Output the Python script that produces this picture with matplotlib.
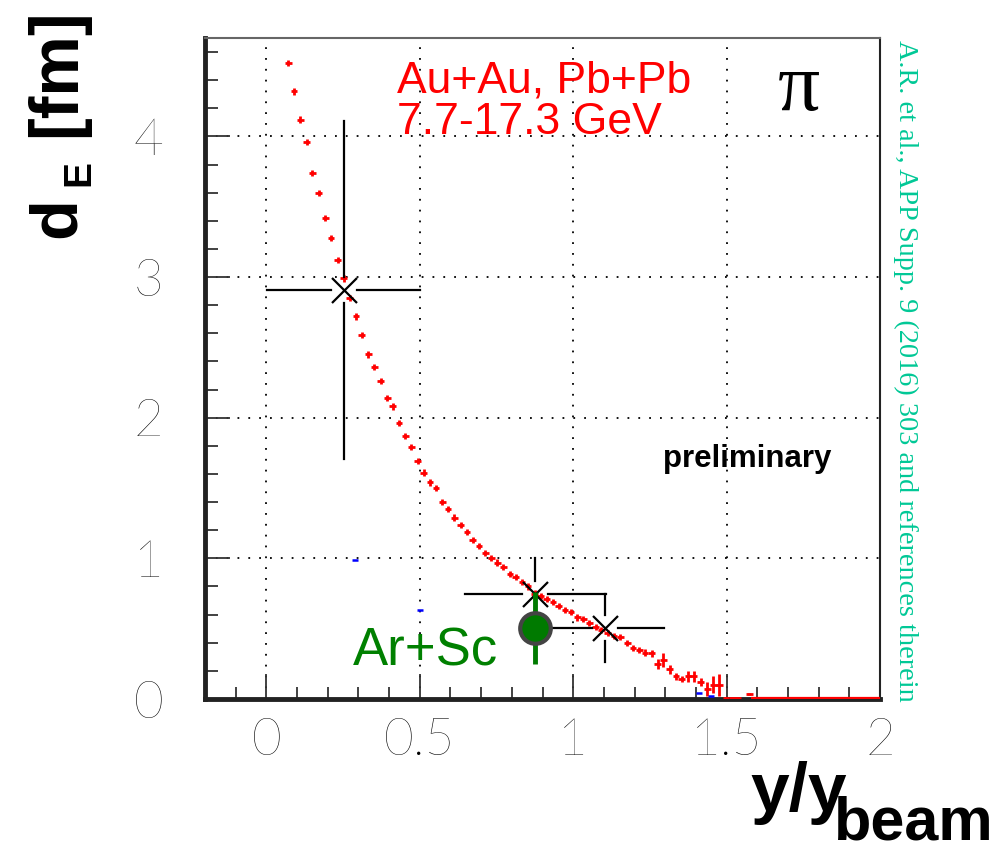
import matplotlib
matplotlib.use("Agg")
import matplotlib.pyplot as plt
import numpy as np
from matplotlib.ticker import MultipleLocator, FuncFormatter

W, H = 996, 858

# Au+Au / Pb+Pb 7.7-17.3 GeV (red)
red_x = [0.071, 0.090, 0.111, 0.131, 0.150, 0.171, 0.192, 0.211, 0.232, 0.252,
         0.272, 0.292, 0.311, 0.332, 0.352, 0.373, 0.394, 0.412, 0.432, 0.453,
         0.473, 0.493, 0.513, 0.533, 0.553, 0.573, 0.592, 0.613, 0.633, 0.654,
         0.673, 0.693, 0.713, 0.733, 0.753, 0.772, 0.794, 0.813, 0.833, 0.853,
         0.875, 0.894, 0.914, 0.934, 0.953, 0.973, 0.993, 1.013, 1.033, 1.053,
         1.073, 1.092, 1.113, 1.133, 1.153, 1.176, 1.195, 1.215, 1.234, 1.256,
         1.275, 1.294, 1.315, 1.335, 1.354, 1.374, 1.393, 1.415, 1.437, 1.457,
         1.476, 1.498, 1.518, 1.535, 1.574]
red_y = [4.52, 4.32, 4.12, 3.96, 3.74, 3.60, 3.42, 3.28, 3.12, 2.99,
         2.85, 2.72, 2.59, 2.45, 2.36, 2.26, 2.14, 2.08, 1.96, 1.87,
         1.79, 1.69, 1.61, 1.54, 1.50, 1.40, 1.35, 1.29, 1.24, 1.19,
         1.13, 1.09, 1.04, 1.00, 0.97, 0.94, 0.89, 0.87, 0.83, 0.80,
         0.75, 0.73, 0.71, 0.69, 0.66, 0.63, 0.62, 0.58, 0.57, 0.54,
         0.51, 0.49, 0.47, 0.45, 0.44, 0.40, 0.36, 0.35, 0.33, 0.325,
         0.25, 0.28, 0.21, 0.16, 0.14, 0.16, 0.16, 0.12, 0.07, 0.10,
         0.10, 0.005, 0.005, 0.005, 0.035]
red_yerr = [0.022] * 59 + [0.025, 0.035, 0.05, 0.035, 0.022, 0.022, 0.04, 0.04,
                           0.03, 0.05, 0.06, 0.08, 0.01, 0.01, 0.01, 0.01]
red_xerr = 0.011
zero_bins = (1.58, 2.0)

# blue remnants
blue_x = [0.29, 0.50, 1.41, 1.45]
blue_y = [0.99, 0.63, 0.04, 0.02]

# black X points
blk_x = [0.252, 0.876, 1.105]
blk_y = [2.91, 0.75, 0.505]
blk_xerr = [0.25, 0.23, 0.19]
blk_yerr = [1.20, 0.25, 0.24]

# Ar+Sc (green)
ar_x, ar_y, ar_yerr = 0.876, 0.505, 0.255


def fpos(x, y):
    return x / W, 1 - y / H


fig = plt.figure(figsize=(W / 100, H / 100), dpi=100)
ax = fig.add_axes([205 / W, 159 / H, 675 / W, 661 / H])
ax.set_xlim(-0.2, 2.0)
ax.set_ylim(0, 4.7)

ax.grid(which="major", linestyle=(0, (1, 5)), color="black", lw=1.3)
ax.set_axisbelow(True)

ax.errorbar(red_x, red_y, xerr=red_xerr, yerr=red_yerr, fmt="none",
            ecolor="red", elinewidth=2.0, capsize=0, zorder=3)
ax.hlines(0.004, zero_bins[0], zero_bins[1], color="red", lw=1.6, zorder=3)
ax.errorbar(blue_x, blue_y, xerr=0.01, fmt="none", ecolor="blue",
            elinewidth=1.8, capsize=0, zorder=3)

# error bars with a gap around the marker, as ROOT draws them
gap_px = 13
gx = gap_px * 2.2 / 675.0
gy = gap_px * 4.7 / 661.0
for x, y, xe, ye in zip(blk_x, blk_y, blk_xerr, blk_yerr):
    ax.plot([x - xe, x - gx], [y, y], color="black", lw=1.6, zorder=4)
    ax.plot([x + gx, x + xe], [y, y], color="black", lw=1.6, zorder=4)
    ax.plot([x, x], [y + gy, y + ye], color="black", lw=1.6, zorder=4)
    ax.plot([x, x], [y - ye, y - gy], color="black", lw=1.6, zorder=4)
ax.plot(blk_x, blk_y, "x", color="black", ms=18, mew=1.6, zorder=5)

ax.errorbar([ar_x], [ar_y], yerr=[ar_yerr], fmt="o", color="#007a00",
            mfc="#007a00", mec="#444444", mew=3, ms=22, elinewidth=3.5,
            capsize=0, zorder=6)

ax.xaxis.set_major_locator(MultipleLocator(0.5))
ax.xaxis.set_minor_locator(MultipleLocator(0.1))
ax.yaxis.set_major_locator(MultipleLocator(1))
ax.yaxis.set_minor_locator(MultipleLocator(0.2))
ax.xaxis.set_major_formatter(FuncFormatter(lambda v, p: f"{v:g}"))
ax.yaxis.set_major_formatter(FuncFormatter(lambda v, p: f"{v:g}"))
ax.tick_params(which="both", direction="in", top=False, right=False,
               color="#333333", width=1.3)
ax.tick_params(which="major", length=18)
ax.tick_params(which="minor", length=9)
ax.tick_params(axis="y", pad=30)
ax.tick_params(axis="x", pad=13)
for lab in ax.get_xticklabels() + ax.get_yticklabels():
    lab.set_fontfamily("Lato")
    lab.set_fontweight("light")
    lab.set_fontsize(37)
    lab.set_color("black")

for side in ("left", "bottom"):
    ax.spines[side].set_linewidth(3.5)
    ax.spines[side].set_color("#222222")
ax.spines["top"].set_linewidth(1.5)
ax.spines["top"].set_color("#666666")
ax.spines["right"].set_linewidth(1.5)
ax.spines["right"].set_color("#222222")

# axis titles, ROOT style
lab_kw = dict(fontfamily="Liberation Sans", fontweight="bold", color="black",
              rotation=90, rotation_mode="anchor", ha="left", va="baseline")
fig.text(*fpos(75, 238), "d", fontsize=48, **lab_kw)
fig.text(*fpos(89, 186), "E", fontsize=28, **lab_kw)
fig.text(*fpos(75, 137), "[fm]", fontsize=49, **lab_kw)

xl_kw = dict(fontfamily="Liberation Sans", fontweight="bold", color="black",
             ha="left", va="baseline")
fig.text(*fpos(750, 811), "y/y", fontsize=50, **xl_kw)
fig.text(*fpos(834, 839), "beam", fontsize=44, **xl_kw)

txt_kw = dict(fontfamily="Liberation Sans", ha="left", va="baseline")
fig.text(*fpos(397, 93), "Au+Au, Pb+Pb", fontsize=32, color="red", **txt_kw)
fig.text(*fpos(397, 134), "7.7-17.3 GeV", fontsize=32, color="red", **txt_kw)
fig.text(*fpos(353, 665), "Ar+Sc", fontsize=38, color="#008000", **txt_kw)
fig.text(*fpos(663, 467), "preliminary", fontsize=22.5, fontweight="bold",
         color="black", **txt_kw)
fig.text(*fpos(778, 110), "π", fontsize=60, fontfamily="Liberation Serif",
         color="black", ha="left", va="baseline")

fig.text(*fpos(899, 40), "A.R. et al., APP Supp. 9 (2016) 303 and references therein",
         fontsize=20.3, fontfamily="Liberation Serif", color="#00c896",
         rotation=-90, rotation_mode="anchor", ha="left", va="baseline")

fig.savefig("out.png", dpi=100)
